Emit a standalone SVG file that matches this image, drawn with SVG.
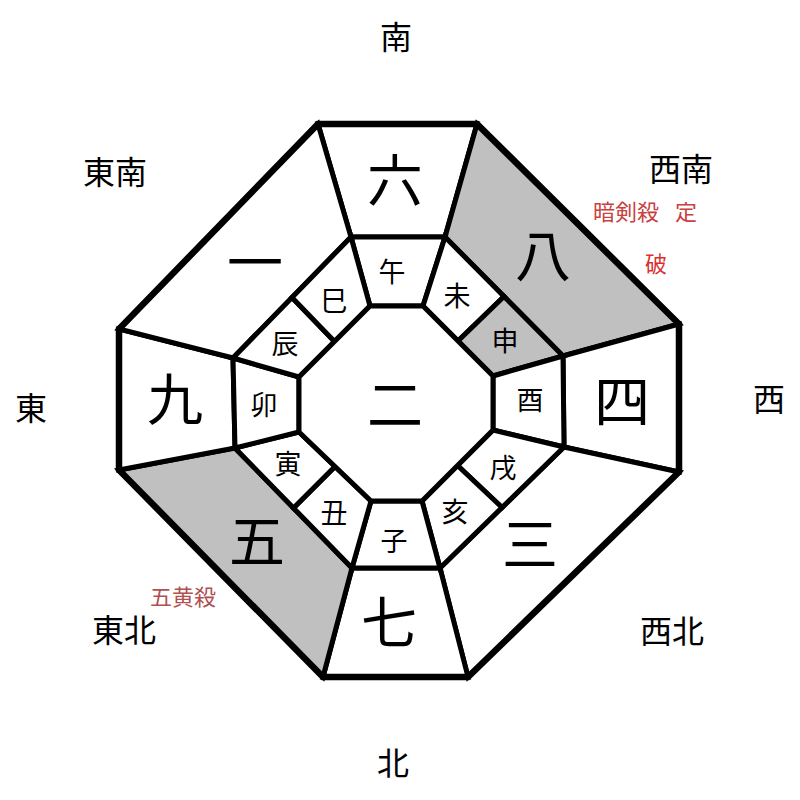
<svg xmlns="http://www.w3.org/2000/svg" width="800" height="800" viewBox="0 0 800 800">
<style>
.c{fill:#fff;stroke:#000;stroke-width:5;stroke-linejoin:miter}
.g{fill:#c0c0c0}
.t{font-family:"Noto Sans CJK JP","Noto Sans CJK SC",sans-serif;text-anchor:middle;fill:#000}
.big{font-size:56px}
.z{font-size:27px}
.d{font-size:32px}
.r{font-size:22px}
</style>
<rect width="800" height="800" fill="#fff"/>
<g id="cell-6"><polygon class="c" points="318,124 477,124 445,237 351,237"/><text class="t big" x="395" y="201">六</text></g>
<g id="cell-8"><polygon class="c g" points="477,124 679,324 563,356 445,237"/><text class="t big" x="543" y="276">八</text></g>
<g id="cell-4"><polygon class="c" points="679,324 679,472 564,447 563,356"/><text class="t big" x="622" y="422">四</text></g>
<g id="cell-3"><polygon class="c" points="679,472 468,677 440,568 564,447"/><text class="t big" x="530" y="565">三</text></g>
<g id="cell-7"><polygon class="c" points="468,677 323,677 352,568 440,568"/><text class="t big" x="389" y="643">七</text></g>
<g id="cell-5"><polygon class="c g" points="323,677 119,470 235,448 352,568"/><text class="t big" x="257" y="562">五</text></g>
<g id="cell-9"><polygon class="c" points="119,470 119,329 233,358 235,448"/><text class="t big" x="175" y="420">九</text></g>
<g id="cell-1"><polygon class="c" points="119,329 318,124 351,237 233,358"/><text class="t big" x="255" y="283">一</text></g>
<g id="z-uma"><polygon class="c" points="351,237 445,237 423,306 370,306"/><text class="t z" x="392" y="282">午</text></g>
<g id="z-hitsuji"><polygon class="c" points="445,237 504,296.5 458,341 423,306"/><text class="t z" x="457" y="306">未</text></g>
<g id="z-saru"><polygon class="c g" points="504,296.5 563,356 493,376 458,341"/><text class="t z" x="505" y="351">申</text></g>
<g id="z-tori"><polygon class="c" points="563,356 564,447 493,430 493,376"/><text class="t z" x="530" y="410">酉</text></g>
<g id="z-inu"><polygon class="c" points="564,447 502,507.5 457.5,465.5 493,430"/><text class="t z" x="503" y="478">戌</text></g>
<g id="z-i"><polygon class="c" points="502,507.5 440,568 422,501 457.5,465.5"/><text class="t z" x="455" y="522">亥</text></g>
<g id="z-ne"><polygon class="c" points="440,568 352,568 371,501 422,501"/><text class="t z" x="394" y="551">子</text></g>
<g id="z-ushi"><polygon class="c" points="352,568 293.5,508 335,466.5 371,501"/><text class="t z" x="334" y="523">丑</text></g>
<g id="z-tora"><polygon class="c" points="293.5,508 235,448 299,432 335,466.5"/><text class="t z" x="288" y="474">寅</text></g>
<g id="z-u"><polygon class="c" points="235,448 233,358 299,377 299,432"/><text class="t z" x="264" y="415">卯</text></g>
<g id="z-tatsu"><polygon class="c" points="233,358 292,297.5 334.5,341.5 299,377"/><text class="t z" x="285" y="354">辰</text></g>
<g id="z-mi"><polygon class="c" points="292,297.5 351,237 370,306 334.5,341.5"/><text class="t z" x="334" y="311">巳</text></g>
<g id="center-2"><polygon class="c" points="370,306 423,306 493,376 493,430 422,501 371,501 299,432 299,377"/><text class="t big" x="395" y="425">二</text></g>
<g id="frame"><polygon points="318,124 477,124 679,324 679,472 468,677 323,677 119,470 119,329" fill="none" stroke="#000" stroke-width="6.5" stroke-linejoin="miter"/></g>
<g id="labels">
<text class="t d" x="396" y="49">南</text>
<text class="t d" x="115" y="184">東南</text>
<text class="t d" x="681" y="181">西南</text>
<text class="t d" x="31" y="420">東</text>
<text class="t d" x="769" y="411">西</text>
<text class="t d" x="124" y="642">東北</text>
<text class="t d" x="672" y="643">西北</text>
<text class="t d" x="393" y="775">北</text>
</g>
<g id="notes">
<text class="t r" x="626" y="220" style="fill:#c84040">暗剣殺</text>
<text class="t r" x="686" y="220" style="fill:#c84040">定</text>
<text class="t r" x="656" y="272" style="fill:#d83030">破</text>
<text class="t r" x="183" y="605" style="fill:#b05050">五黄殺</text>
</g>
</svg>
